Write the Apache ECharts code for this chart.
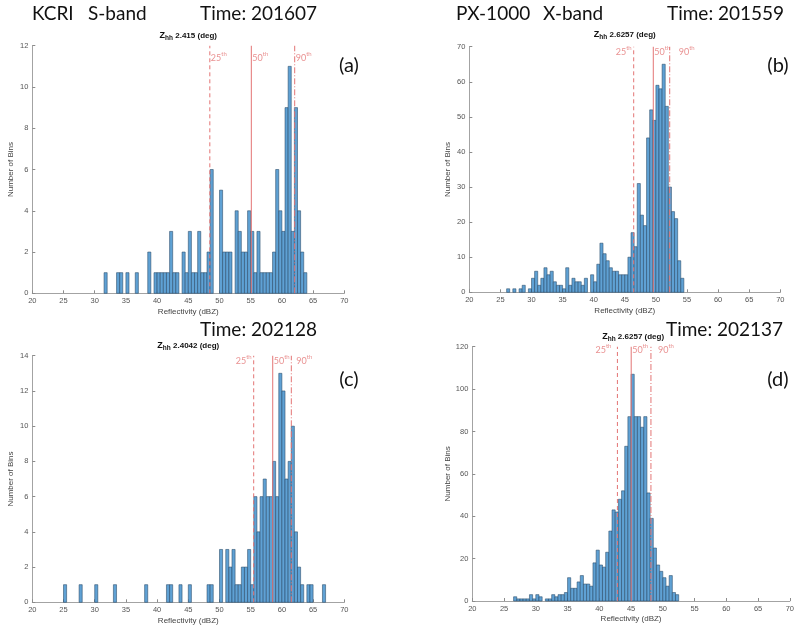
<!DOCTYPE html>
<html>
<head>
<meta charset="utf-8">
<script src="https://cdn.jsdelivr.net/npm/echarts@6/dist/echarts.min.js"></script>
<style>html,body{margin:0;padding:0;background:#fff}#c{width:797px;height:628px}</style>
</head>
<body>
<div id="c"></div>
<script>
// ---------- DATA ----------
const binWidth = 0.5;
const xTicks = [20, 25, 30, 35, 40, 45, 50, 55, 60, 65, 70];

// (a) KCRI S-band, Time 201607 — counts per 0.5 dBZ bin starting at aStart
const aStart = 31.5;
const aCounts = [1,0,0,0,1,1,0,1,0,0,1,0,0,0,2,0,1,1,1,1,1,3,1,1,0,2,1,3,1,1,3,1,1,2,6,0,0,5,2,2,2,0,4,3,2,2,4,3,1,3,1,1,1,1,2,6,4,3,9,11,3,9,4,2,1];
const aPct = [48.45, 55.1, 62.05];
const aZhh = '2.415';

// (b) PX-1000 X-band, Time 201559
const bStart = 26;
const bCounts = [1,0,1,0,1,2,0,1,4,6,2,4,7,5,6,3,2,2,1,7,2,4,3,3,2,4,0,5,3,8,14,11,9,7,6,6,5,5,5,10,17,13,31,22,19,44,52,49,59,58,65,53,30,23,21,9,4];
const bPct = [46.43, 49.58, 52.22];
const bZhh = '2.6257';

// (c) KCRI S-band, Time 202128
const cStart = 25;
const cCounts = [1,0,0,0,0,1,0,0,0,0,1,0,0,0,0,0,1,0,0,0,0,0,0,0,0,0,1,0,0,0,0,0,0,1,1,0,0,1,0,0,1,0,0,0,0,0,1,1,0,0,3,0,3,2,3,1,1,2,2,3,1,6,4,6,7,6,6,8,6,13,12,7,8,10,4,2,1,0,1,1,0,0,0,1];
const cPct = [55.48, 58.53, 61.51];
const cZhh = '2.4042';

// (d) PX-1000 X-band, Time 202137
const dStart = 26.5;
const dCounts = [2,1,1,1,1,3,1,3,2,0,1,1,3,2,3,3,4,11,6,6,9,12,8,8,7,18,24,17,16,23,33,43,42,48,52,73,87,107,87,87,82,87,51,39,25,17,14,11,7,12,4,3];
const dPct = [42.85, 45.02, 48.13];
const dZhh = '2.6257';

const pctNames = ['25', '50', '90'];
const yMaxes = [12, 70, 14, 120];
const yIntervals = [2, 10, 2, 20];

const headerTexts = [
  ['KCRI', 32, 15], ['S-band', 88, 15], ['Time: 201607', 200, 15],
  ['PX-1000', 456, 15], ['X-band', 543, 15], ['Time: 201559', 667, 15],
  ['Time: 202128', 200, 331], ['Time: 202137', 666, 331]
];
const panelTags = [['(a)', 349, 66], ['(b)', 778, 66], ['(c)', 349, 380], ['(d)', 778, 380]];

// ---------- LAYOUT / STYLE ----------
const grids = [
  {left: 32.3, top: 45.7, width: 312, height: 247.6},
  {left: 469.3, top: 46.7, width: 311, height: 245.6},
  {left: 32.3, top: 355.7, width: 312, height: 246.6},
  {left: 472.3, top: 346.7, width: 321.7, height: 254.3}
];
const titleY = [37, 36, 347, 338];
const pctLabelCfg = [
  {dy: 11, items: [[1,'left'],[1,'left'],[1,'left']]},
  {dy: 4, items: [[-2,'right'],[1,'left'],[9,'left']]},
  {dy: 4, items: [[-2,'right'],[1,'left'],[5,'left']]},
  {dy: 2, items: [[-6,'right'],[1,'left'],[7,'left']]}
];
const pctLineTypes = [[4,3], 'solid', [6,2,1,2]];
const red = '#e37474';
const barFill = '#5fa1d4';
const barStroke = '#274864';
const axisGray = '#8c8c8c';
const tickFont = 'Liberation Sans, Helvetica, Arial, sans-serif';

const panels = [
  {start: aStart, counts: aCounts, pct: aPct, zhh: aZhh},
  {start: bStart, counts: bCounts, pct: bPct, zhh: bZhh},
  {start: cStart, counts: cCounts, pct: cPct, zhh: cZhh},
  {start: dStart, counts: dCounts, pct: dPct, zhh: dZhh}
];

const xAxes = [], yAxes = [], series = [], titles = [];
panels.forEach((p, i) => {
  const g = grids[i];
  xAxes.push({
    type: 'value', gridIndex: i, min: 20, max: 70, interval: 5,
    name: 'Reflectivity (dBZ)', nameLocation: 'middle', nameGap: 14,
    nameTextStyle: {fontSize: 8, color: '#444', fontFamily: tickFont},
    axisLine: {show: true, lineStyle: {color: axisGray, width: 0.8}},
    axisTick: {show: true, inside: true, length: 3, lineStyle: {color: axisGray}},
    axisLabel: {fontSize: 7.5, color: '#555', margin: 4, fontFamily: tickFont},
    splitLine: {show: false}
  });
  yAxes.push({
    type: 'value', gridIndex: i, min: 0, max: yMaxes[i], interval: yIntervals[i],
    name: 'Number of Bins', nameLocation: 'middle', nameGap: 18,
    nameTextStyle: {fontSize: 8, color: '#444', fontFamily: tickFont},
    axisLine: {show: true, lineStyle: {color: axisGray, width: 0.8}},
    axisTick: {show: true, inside: true, length: 3, lineStyle: {color: axisGray}},
    axisLabel: {fontSize: 7.5, color: '#555', margin: 4, fontFamily: tickFont},
    splitLine: {show: false}
  });
  const data = p.counts.map((c, k) => [p.start + k * binWidth, p.start + (k + 1) * binWidth, c]).filter(d => d[2] > 0);
  series.push({
    type: 'custom', xAxisIndex: i, yAxisIndex: i, data: data,
    encode: {x: [0, 1], y: 2},
    renderItem: (params, api) => {
      const p0 = api.coord([api.value(0), 0]);
      const p1 = api.coord([api.value(1), api.value(2)]);
      return {type: 'rect', shape: {x: p0[0], y: p1[1], width: p1[0] - p0[0], height: p0[1] - p1[1]},
        style: {fill: barFill, stroke: barStroke, lineWidth: 0.55}};
    },
    z: 2
  });
  p.pct.forEach((v, k) => {
    series.push({
      type: 'line', xAxisIndex: i, yAxisIndex: i, data: [[v, 0], [v, yMaxes[i]]],
      symbol: 'none', silent: true, z: 3,
      lineStyle: {color: red, width: 1, type: pctLineTypes[k]}
    });
    const cfg = pctLabelCfg[i];
    series.push({
      type: 'scatter', xAxisIndex: i, yAxisIndex: i, data: [[v, yMaxes[i]]],
      symbolSize: 0, silent: true, z: 4,
      label: {
        show: true, position: [cfg.items[k][0], cfg.dy], align: cfg.items[k][1], verticalAlign: 'middle',
        formatter: '{n|' + pctNames[k] + '}{s|th}',
        rich: {
          n: {fontSize: 9, color: red, fontFamily: 'Lato, sans-serif', lineHeight: 11, verticalAlign: 'bottom'},
          s: {fontSize: 6, color: red, fontFamily: 'Lato, sans-serif', lineHeight: 11, verticalAlign: 'top', padding: [0,0,4,0]}
        }
      }
    });
  });
  titles.push({
    text: '{z|Z}{h|hh}{t| ' + p.zhh + ' (deg)}',
    left: g.left + g.width / 2, top: titleY[i],
    textStyle: {
      rich: {
        z: {fontSize: 9, fontWeight: 'bold', color: '#111', fontFamily: tickFont, lineHeight: 12, verticalAlign: 'middle'},
        h: {fontSize: 6.5, fontWeight: 'bold', color: '#111', fontFamily: tickFont, lineHeight: 12, verticalAlign: 'bottom', padding: [4,0,0,0]},
        t: {fontSize: 8, fontWeight: 'bold', color: '#111', fontFamily: tickFont, lineHeight: 12, verticalAlign: 'middle'}
      }
    }
  });
});

const graphics = [];
headerTexts.forEach(t => graphics.push({type: 'text', left: t[1], top: t[2] - 11, style: {text: t[0], fontSize: 19, fontFamily: 'Lato, sans-serif', fill: '#111'}}));
panelTags.forEach(t => graphics.push({type: 'text', x: t[1], y: t[2], style: {text: t[0], fontSize: 20, fontFamily: 'Lato, sans-serif', fill: '#111', align: 'center', verticalAlign: 'middle'}}));

const chart = echarts.init(document.getElementById('c'), null, {renderer: 'canvas'});
chart.setOption({
  animation: false,
  backgroundColor: '#fff',
  title: titles.map(t => ({text: t.text, left: t.left, top: t.top - 7, textAlign: 'center', textStyle: t.textStyle, padding: 0})),
  grid: grids.map(g => Object.assign({containLabel: false}, g)),
  xAxis: xAxes, yAxis: yAxes, series: series, graphic: graphics
});
</script>
</body>
</html>
